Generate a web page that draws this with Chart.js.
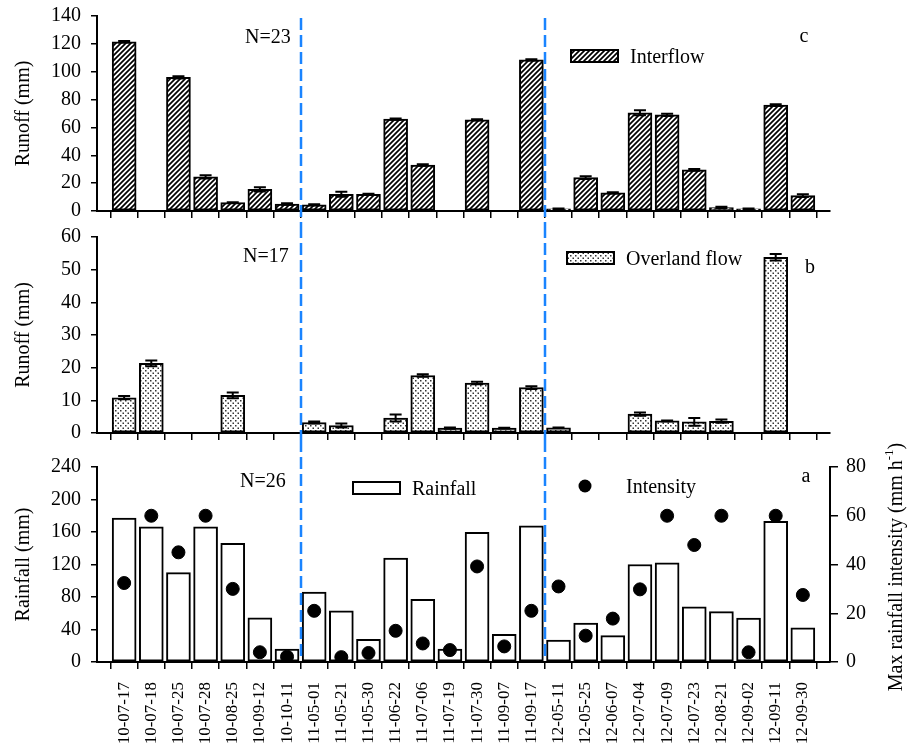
<!DOCTYPE html>
<html>
<head>
<meta charset="utf-8">
<script src="https://cdn.jsdelivr.net/npm/chart.js@4"></script>
<style>
  body { margin: 0; background: #fff; }
  #wrap { position: relative; width: 916px; height: 756px; overflow: hidden; }
  canvas { position: absolute; left: 0; }
</style>
</head>
<body>
<div id="wrap">
  <canvas id="chartC" width="916" height="239" style="top:-6px"></canvas>
  <canvas id="chartB" width="916" height="240" style="top:215px"></canvas>
  <canvas id="chartA" width="916" height="336" style="top:420px"></canvas>
</div>
<script>
// event dates (yy-mm-dd)
var dates = ['10-07-17','10-07-18','10-07-25','10-07-28','10-08-25','10-09-12','10-10-11',
  '11-05-01','11-05-21','11-05-30','11-06-22','11-07-06','11-07-19','11-07-30','11-09-07','11-09-17',
  '12-05-11','12-05-25','12-06-07','12-07-04','12-07-09','12-07-23','12-08-21','12-09-02','12-09-11','12-09-30'];

// panel c - interflow (mm), null = no event
var interflow    = [121.5, null, 96, 24.5, 6, 15.5, 5, 4.5, 12, 12, 66, 33, null, 65.5, null, 108.5,
  1.5, 24, 13, 70.5, 69, 29.5, 2.5, 1.5, 76, 11];
var interflowErr = [0.6, null, 0.8, 1.2, 0.3, 1.5, 0.5, 0.3, 1.8, 0.4, 0.4, 0.6, null, 0.4, null, 0.5,
  0.3, 1, 0.5, 1.8, 0.8, 0.6, 0.6, 0.3, 0.6, 1];

// panel b - overland flow (mm)
var overland    = [10.8, 21.3, null, null, 11.5, null, null, 3.2, 2.3, null, 4.6, 17.6, 1.5, 15.3, 1.5, 13.9,
  1.6, null, null, 5.8, 3.7, 3.4, 3.6, null, 53.8, null];
var overlandErr = [0.5, 0.9, null, null, 0.9, null, null, 0.3, 0.6, null, 1.1, 0.4, 0.2, 0.4, 0.1, 0.4,
  0.1, null, null, 0.5, 0.1, 1.2, 0.5, null, 1, null];

// panel a - rainfall (mm) and max rainfall intensity (mm/h)
var rainfall  = [177, 166.5, 110, 166.5, 146, 54.5, 16, 86, 63, 28, 128, 77, 16, 159.5, 34, 167.5,
  27, 48, 32.5, 120, 122, 68, 62, 54, 173, 42];
var intensity = [32.4, 60, 45, 60, 30, 4, 2.2, 21, 2, 3.7, 12.8, 7.6, 4.9, 39.2, 6.4, 21,
  31, 10.8, 17.8, 29.8, 60, 48, 60, 4, 60, 27.5];

var FONT = "'Liberation Serif', 'Times New Roman', serif";
Chart.defaults.font.family = FONT;
Chart.defaults.font.size = 20;
Chart.defaults.color = '#000';

function hatchPattern() {
  var c = document.createElement('canvas');
  c.width = 5; c.height = 5;
  var g = c.getContext('2d');
  g.fillStyle = '#fff'; g.fillRect(0, 0, 5, 5);
  g.strokeStyle = '#000'; g.lineWidth = 1.7;
  g.beginPath();
  g.moveTo(-1, 6); g.lineTo(6, -1);
  g.moveTo(-1, 1); g.lineTo(1, -1);
  g.moveTo(4, 6); g.lineTo(6, 4);
  g.stroke();
  return g.createPattern(c, 'repeat');
}

function dotPattern() {
  var c = document.createElement('canvas');
  c.width = 5; c.height = 5;
  var g = c.getContext('2d');
  g.fillStyle = '#fff'; g.fillRect(0, 0, 5, 5);
  g.fillStyle = '#333';
  g.fillRect(0, 0, 1.5, 1.5);
  g.fillRect(2.5, 2.5, 1.5, 1.5);
  return g.createPattern(c, 'repeat');
}

function points(arr) {
  return arr.map(function(v, i) { return {x: i, y: v}; })
            .filter(function(p) { return p.y !== null; });
}

// x axis shared by all three panels
function xAxis(showLabels, height) {
  return {
    type: 'linear', min: -1, max: 26, offset: false,
    afterBuildTicks: function(s) { s.ticks = dates.map(function(d, i) { return {value: i}; }); },
    afterFit: function(s) { s.height = height; },
    ticks: {
      display: showLabels, autoSkip: false, minRotation: 90, maxRotation: 90,
      font: {size: 17}, padding: 13,
      callback: function(v) { return dates[v] || ''; }
    },
    grid: {drawOnChartArea: false, drawTicks: true, tickLength: 7, color: '#000', lineWidth: 1.5},
    border: {display: true, color: '#000', width: 2}
  };
}

function yAxis(max, step, title) {
  return {
    min: 0, max: max,
    afterFit: function(s) { s.width = 97; },
    ticks: {stepSize: step, padding: 10},
    grid: {drawOnChartArea: false, tickLength: 6, color: '#000', lineWidth: 1.5},
    border: {display: true, color: '#000', width: 2},
    title: {display: true, text: title, padding: {top: 12, bottom: 0}}
  };
}

// error bars on top of the bars
var errorBars = {
  id: 'errorBars',
  afterDatasetsDraw: function(chart) {
    var errs = chart.options.plugins.errorBars && chart.options.plugins.errorBars.errors;
    if (!errs) return;
    var ctx = chart.ctx, ys = chart.scales.y;
    var meta = chart.getDatasetMeta(0), ds = chart.data.datasets[0];
    ctx.save();
    ctx.strokeStyle = '#000';
    ctx.lineWidth = 2;
    meta.data.forEach(function(bar, j) {
      var p = ds.data[j], e = errs[p.x];
      if (!e) return;
      var y1 = ys.getPixelForValue(p.y + e), y2 = ys.getPixelForValue(p.y - e);
      ctx.beginPath();
      ctx.moveTo(bar.x, y1); ctx.lineTo(bar.x, y2);
      ctx.moveTo(bar.x - 6, y1); ctx.lineTo(bar.x + 6, y1);
      ctx.moveTo(bar.x - 6, y2); ctx.lineTo(bar.x + 6, y2);
      ctx.stroke();
    });
    ctx.restore();
  }
};

// dashed year separators, legends and panel text (page coordinates, shifted by canvas top)
var decor = {
  id: 'decor',
  afterDraw: function(chart) {
    var o = chart.options.plugins.decor;
    var ctx = chart.ctx, xs = chart.scales.x;
    ctx.save();
    ctx.translate(0, -o.top);
    ctx.strokeStyle = '#1a84ff';
    ctx.lineWidth = 2.5;
    ctx.setLineDash([12, 5]);
    [6.5, 15.5].forEach(function(v) {
      var x = Math.round(xs.getPixelForValue(v));
      ctx.beginPath();
      ctx.moveTo(x, o.lineTop); ctx.lineTo(x, o.lineBottom);
      ctx.stroke();
    });
    ctx.setLineDash([]);
    ctx.fillStyle = '#000';
    ctx.font = '20px ' + FONT;
    ctx.textBaseline = 'alphabetic';
    ctx.textAlign = 'left';
    ctx.fillText(o.n, o.nX, o.nY);
    ctx.textAlign = 'center';
    ctx.fillText(o.tag, o.tagX, o.tagY);
    ctx.textAlign = 'left';
    o.legend.forEach(function(item) {
      if (item.box) {
        ctx.fillStyle = item.fill;
        ctx.fillRect(item.box[0], item.box[1], item.box[2], item.box[3]);
        ctx.strokeStyle = '#000';
        ctx.lineWidth = 2;
        ctx.strokeRect(item.box[0], item.box[1], item.box[2], item.box[3]);
      } else {
        ctx.fillStyle = '#000';
        ctx.beginPath();
        ctx.arc(item.dot[0], item.dot[1], 6.5, 0, Math.PI * 2);
        ctx.fill();
      }
      ctx.fillStyle = '#000';
      ctx.fillText(item.text, item.tx, item.ty);
    });
    if (o.rightTitle) {
      // rotated title with superscript, reading bottom to top
      var main = 'Max rainfall intensity (mm h', sup = '-1', end = ')';
      ctx.font = '20px ' + FONT;
      var w1 = ctx.measureText(main).width, w3 = ctx.measureText(end).width;
      ctx.font = '13px ' + FONT;
      var w2 = ctx.measureText(sup).width;
      var total = w1 + w2 + w3;
      ctx.translate(o.rightTitle[0], o.rightTitle[1]);
      ctx.rotate(-Math.PI / 2);
      ctx.textBaseline = 'middle';
      ctx.font = '20px ' + FONT;
      ctx.fillText(main, -total / 2, 0);
      ctx.font = '13px ' + FONT;
      ctx.fillText(sup, -total / 2 + w1, -7);
      ctx.font = '20px ' + FONT;
      ctx.fillText(end, -total / 2 + w1 + w2, 0);
    }
    ctx.restore();
  }
};

var hatch = hatchPattern(), dots = dotPattern();

// panel c (canvas top -6)
new Chart(document.getElementById('chartC'), {
  type: 'bar',
  data: {datasets: [{label: 'Interflow', data: points(interflow), backgroundColor: hatch,
    borderColor: '#000', borderWidth: 2, borderSkipped: false, barThickness: 24}]},
  options: {
    responsive: false, animation: false,
    layout: {padding: {top: 0, right: 86, left: 0, bottom: 0}},
    scales: {x: xAxis(false, 15), y: yAxis(140, 20, 'Runoff (mm)')},
    plugins: {
      legend: {display: false}, tooltip: {enabled: false},
      errorBars: {errors: interflowErr},
      decor: {top: -6, lineTop: 18, lineBottom: 226, n: 'N=23', nX: 245, nY: 43, tag: 'c', tagX: 804, tagY: 42,
        legend: [{box: [571, 50, 47, 12], fill: hatch, text: 'Interflow', tx: 630, ty: 63}]}
    }
  },
  plugins: [errorBars, decor]
});

// panel b (canvas top 215)
new Chart(document.getElementById('chartB'), {
  type: 'bar',
  data: {datasets: [{label: 'Overland flow', data: points(overland), backgroundColor: dots,
    borderColor: '#000', borderWidth: 2, borderSkipped: false, barThickness: 24}]},
  options: {
    responsive: false, animation: false,
    layout: {padding: {top: 0, right: 86, left: 0, bottom: 0}},
    scales: {x: xAxis(false, 15), y: yAxis(60, 10, 'Runoff (mm)')},
    plugins: {
      legend: {display: false}, tooltip: {enabled: false},
      errorBars: {errors: overlandErr},
      decor: {top: 215, lineTop: 226, lineBottom: 440, n: 'N=17', nX: 243, nY: 262, tag: 'b', tagX: 810, tagY: 273,
        legend: [{box: [567, 252, 47, 12], fill: dots, text: 'Overland flow', tx: 626, ty: 265}]}
    }
  },
  plugins: [errorBars, decor]
});

// panel a (canvas top 420)
new Chart(document.getElementById('chartA'), {
  type: 'bar',
  data: {datasets: [
    {label: 'Rainfall', data: points(rainfall), backgroundColor: '#fff', borderColor: '#000',
      borderWidth: 2, borderSkipped: false, barThickness: 24, order: 2},
    {type: 'line', label: 'Intensity', data: points(intensity), yAxisID: 'y1', showLine: false,
      pointRadius: 6.5, pointBackgroundColor: '#000', pointBorderColor: '#000', order: 1}
  ]},
  options: {
    responsive: false, animation: false,
    layout: {padding: {top: 47, right: 0, left: 0, bottom: 0}},
    scales: {
      x: xAxis(true, 94),
      y: yAxis(240, 40, 'Rainfall (mm)'),
      y1: {
        position: 'right', min: 0, max: 80,
        afterFit: function(s) { s.width = 86; },
        ticks: {stepSize: 20, padding: 8},
        grid: {drawOnChartArea: false, tickLength: 8, color: '#000', lineWidth: 1.5},
        border: {display: true, color: '#000', width: 2}
      }
    },
    plugins: {
      legend: {display: false}, tooltip: {enabled: false},
      decor: {top: 420, lineTop: 440, lineBottom: 660, n: 'N=26', nX: 240, nY: 487, tag: 'a', tagX: 806, tagY: 482,
        legend: [{box: [353, 482, 47, 12], fill: '#fff', text: 'Rainfall', tx: 412, ty: 495},
                 {dot: [585, 486], text: 'Intensity', tx: 626, ty: 493}],
        rightTitle: [897, 567]}
    }
  },
  plugins: [decor]
});
</script>
</body>
</html>
